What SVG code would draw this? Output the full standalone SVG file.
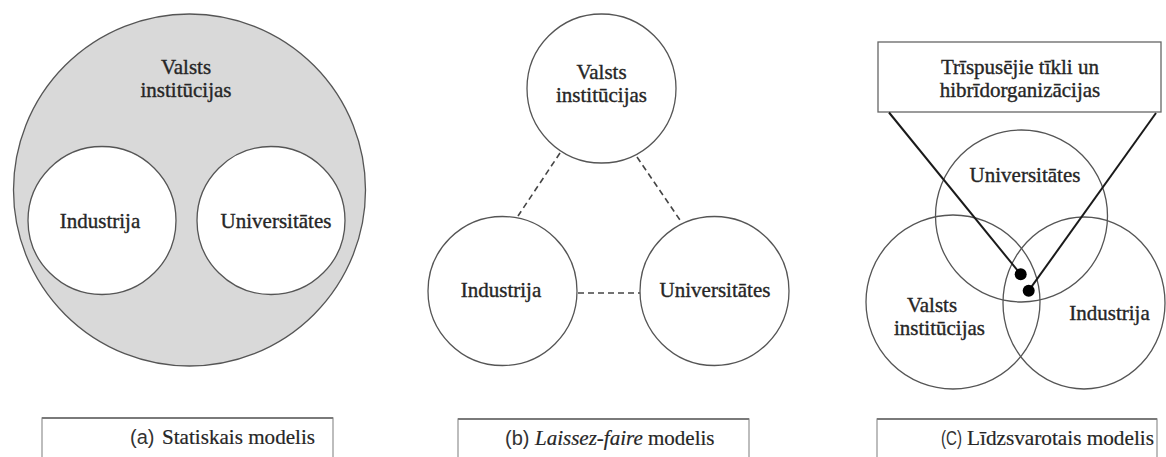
<svg xmlns="http://www.w3.org/2000/svg" width="1166" height="457" viewBox="0 0 1166 457">
  <style>
    .node { fill: #ffffff; stroke: #555555; stroke-width: 1.3; }
    .ring { fill: none; stroke: #555555; stroke-width: 1.3; }
    .outer { fill: #d9d9d9; stroke: #555555; stroke-width: 1.3; }
    .lbl { font-family: "Liberation Serif", "Times New Roman", serif; font-size: 21px; fill: #262626; stroke: #262626; stroke-width: 0.35; text-anchor: middle; }
    .cap { font-family: "Liberation Serif", "Times New Roman", serif; font-size: 21px; fill: #262626; stroke: #262626; stroke-width: 0.2; }
    .tag { font-family: "Liberation Sans", Arial, sans-serif; font-size: 20px; fill: #333333; }
    .dash { stroke: #444444; stroke-width: 1.6; stroke-dasharray: 6 4; fill: none; }
    .lead { stroke: #1a1a1a; stroke-width: 2; fill: none; }
    .frame { fill: #ffffff; stroke: #9a9a9a; stroke-width: 1.3; }
    .frame-top { stroke: #7a7a7a; stroke-width: 2; }
  </style>
  <rect width="1166" height="457" fill="#ffffff"/>

  <!-- (a) statist model: government encloses industry and universities -->
  <g id="a-government">
    <circle class="outer" cx="189.5" cy="190" r="176"/>
    <text class="lbl" x="186" y="74">Valsts</text>
    <text class="lbl" x="186" y="97">institūcijas</text>
  </g>
  <g id="a-industry">
    <circle class="node" cx="102" cy="220.5" r="74"/>
    <text class="lbl" x="100" y="228">Industrija</text>
  </g>
  <g id="a-universities">
    <circle class="node" cx="271" cy="220.5" r="74"/>
    <text class="lbl" x="276" y="228">Universitātes</text>
  </g>

  <!-- (b) laissez-faire model: three separate spheres -->
  <g id="b-connectors">
    <line class="dash" x1="560" y1="153" x2="518" y2="216"/>
    <line class="dash" x1="637" y1="157" x2="682" y2="223"/>
    <line class="dash" x1="578" y1="293" x2="640" y2="293"/>
  </g>
  <g id="b-government">
    <circle class="node" cx="601.5" cy="88.5" r="74.5"/>
    <text class="lbl" x="601.5" y="79">Valsts</text>
    <text class="lbl" x="601.5" y="102">institūcijas</text>
  </g>
  <g id="b-industry">
    <circle class="node" cx="502.5" cy="291" r="74.5"/>
    <text class="lbl" x="501" y="297">Industrija</text>
  </g>
  <g id="b-universities">
    <circle class="node" cx="714.5" cy="291" r="74.5"/>
    <text class="lbl" x="715" y="297">Universitātes</text>
  </g>

  <!-- (c) balanced model: overlapping spheres -->
  <g id="c-universities">
    <circle class="ring" cx="1021.5" cy="216" r="86"/>
    <text class="lbl" x="1025" y="182">Universitātes</text>
  </g>
  <g id="c-government">
    <circle class="ring" cx="953" cy="302" r="87"/>
    <text class="lbl" x="932" y="312">Valsts</text>
    <text class="lbl" x="939.5" y="335">institūcijas</text>
  </g>
  <g id="c-industry">
    <ellipse class="ring" cx="1084" cy="303" rx="81" ry="86"/>
    <text class="lbl" x="1109.5" y="320">Industrija</text>
  </g>
  <g id="c-hybrid">
    <rect x="878" y="42" width="283" height="70" fill="#ffffff" stroke="#666666" stroke-width="1.3"/>
    <text class="lbl" x="1020" y="74">Trīspusējie tīkli un</text>
    <text class="lbl" x="1020" y="97">hibrīdorganizācijas</text>
  </g>
  <g id="c-connectors">
    <line class="lead" x1="889" y1="112.5" x2="1020.7" y2="274.3"/>
    <line class="lead" x1="1156" y1="113" x2="1028.7" y2="290.7"/>
    <circle cx="1020.7" cy="274.3" r="6" fill="#000000"/>
    <circle cx="1028.7" cy="290.7" r="6" fill="#000000"/>
  </g>

  <!-- captions -->
  <g id="caption-a">
    <rect class="frame" x="42" y="418" width="291" height="50"/>
    <line class="frame-top" x1="42" y1="418" x2="333" y2="418"/>
    <text class="tag" x="130" y="444">(a)</text>
    <text class="cap" x="162" y="444" textLength="153" lengthAdjust="spacingAndGlyphs">Statiskais modelis</text>
  </g>
  <g id="caption-b">
    <rect class="frame" x="458" y="419" width="291" height="50"/>
    <line class="frame-top" x1="458" y1="419" x2="749" y2="419"/>
    <text class="tag" x="505" y="445">(b)</text>
    <text class="cap" x="535" y="445"><tspan font-style="italic">Laissez-faire</tspan> modelis</text>
  </g>
  <g id="caption-c">
    <rect class="frame" x="877" y="419" width="280" height="50"/>
    <line class="frame-top" x1="877" y1="419" x2="1157" y2="419"/>
    <text class="tag" x="941" y="445" textLength="21" lengthAdjust="spacingAndGlyphs">(C)</text>
    <text class="cap" x="967" y="445" textLength="187" lengthAdjust="spacingAndGlyphs">Līdzsvarotais modelis</text>
  </g>
</svg>
